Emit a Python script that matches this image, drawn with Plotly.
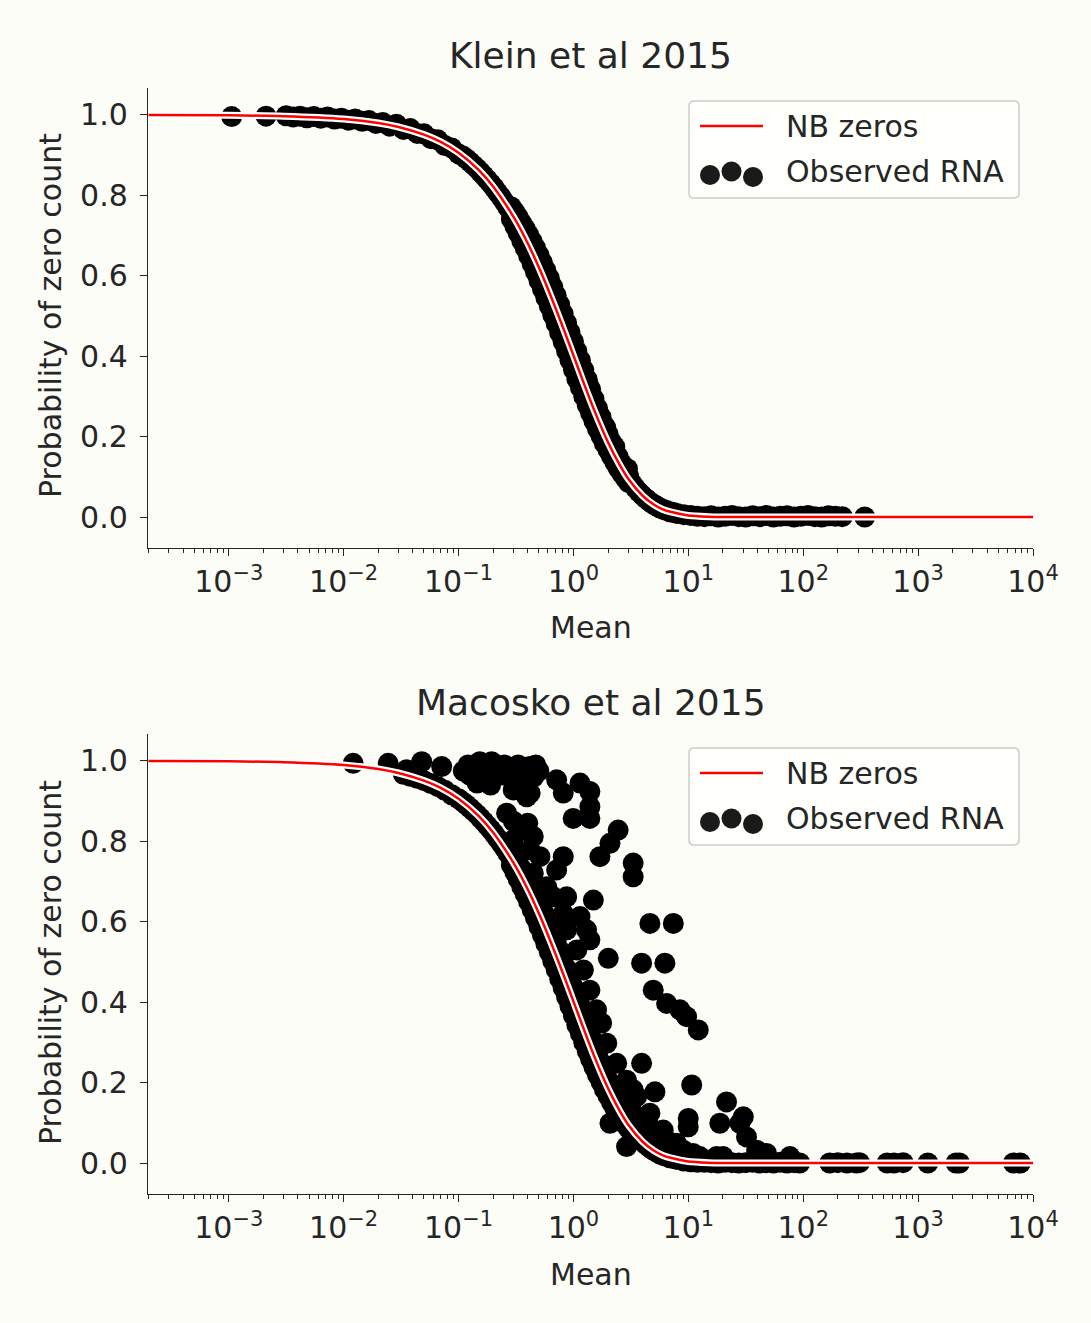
import plotly.graph_objects as go

# ---------------- data ----------------
# NB zeros model curve
nb_mean = [0.0002, 0.001, 0.003, 0.01, 0.02, 0.03, 0.05, 0.07, 0.1, 0.15, 0.2, 0.3, 0.4, 0.5,
           0.6, 0.7, 0.85, 1.0, 1.2, 1.5, 2.0, 2.5, 3.0, 4.0, 5.0, 6.0, 7.0, 10, 15, 20, 30,
           100, 1000, 10000]
nb_p0 = [1.0, 0.999, 0.997, 0.990, 0.980, 0.970, 0.951, 0.933, 0.906, 0.863, 0.822, 0.747, 0.681, 0.621,
         0.567, 0.519, 0.456, 0.402, 0.341, 0.269, 0.186, 0.132, 0.095, 0.053, 0.031, 0.019, 0.013,
         0.004, 0.001, 0.0003, 0.0001, 0.0, 0.0, 0.0]

# Klein et al 2015 observed points
klein_mean = [
    0.00106, 0.00211, 0.00316, 0.00363, 0.00417, 0.00479, 0.0055, 0.00631, 0.00724, 0.00832,
    0.00955, 0.011, 0.0126, 0.0145, 0.0166, 0.0191, 0.0219, 0.0251, 0.0288, 0.0331,
    0.038, 0.0437, 0.0501, 0.0575, 0.0661, 0.0759, 0.0871, 0.1,
    0.11, 0.117, 0.126, 0.135, 0.145, 0.155, 0.166, 0.178, 0.191, 0.204,
    0.219, 0.234, 0.251, 0.269, 0.288, 0.309, 0.331, 0.355, 0.38, 0.407,
    0.437, 0.468, 0.501, 0.537, 0.575, 0.617, 0.661, 0.708, 0.759, 0.813,
    0.871, 0.933, 1.0, 1.07, 1.15, 1.23, 1.32, 1.41, 1.51, 1.62,
    1.74, 1.86, 2.0, 2.14, 2.29, 2.45, 2.63, 2.82, 3.02, 3.24,
    3.47, 3.72, 3.98, 4.27, 4.57, 4.9, 5.25, 5.62, 6.03, 6.46,
    6.92, 7.41, 7.94,
    9.12, 10.5, 12.0, 13.8, 15.8, 18.2, 20.9, 24.0, 27.5, 31.6, 36.3, 41.7,
    47.9, 55.0, 63.1, 72.4, 83.2, 95.5, 110, 126, 145, 166, 191, 219, 343,
    0.646, 0.813, 1.35, 1.91, 2.29, 2.95]
klein_p0 = [
    0.996, 0.997, 0.998, 0.995, 0.997, 0.993, 0.996, 0.992, 0.995, 0.990,
    0.992, 0.987, 0.990, 0.984, 0.986, 0.979, 0.981, 0.972, 0.977, 0.964,
    0.966, 0.954, 0.953, 0.941, 0.938, 0.924, 0.918, 0.903,
    0.897, 0.891, 0.883, 0.875, 0.867, 0.858, 0.849, 0.839, 0.829, 0.819,
    0.807, 0.796, 0.783, 0.770, 0.756, 0.741, 0.726, 0.709, 0.693, 0.676,
    0.658, 0.639, 0.620, 0.600, 0.580, 0.559, 0.537, 0.516, 0.493, 0.471,
    0.448, 0.425, 0.402, 0.378, 0.356, 0.333, 0.310, 0.288, 0.266, 0.245,
    0.225, 0.205, 0.187, 0.169, 0.152, 0.136, 0.121, 0.107, 0.094, 0.083,
    0.072, 0.062, 0.054, 0.046, 0.039, 0.033, 0.028, 0.023, 0.019, 0.016,
    0.013, 0.011, 0.009,
    0.006, 0.004, 0.002, 0.001, 0.003, 0.0, 0.002, 0.004, 0.001, 0.0, 0.003, 0.001,
    0.004, 0.0, 0.002, 0.003, 0.0, 0.002, 0.004, 0.001, 0.0, 0.003, 0.002, 0.001, 0.0,
    0.568, 0.495, 0.328, 0.222, 0.175, 0.120]

# points spread above / below the curve in its steep part (both datasets)
steep_spread_mean = [0.288, 0.309, 0.331, 0.355, 0.38, 0.407, 0.437, 0.468, 0.501, 0.537,
                     0.575, 0.617, 0.661, 0.708, 0.759, 0.813, 0.871, 0.933, 1.0, 1.07,
                     1.15, 1.23, 1.32, 1.41, 1.51, 1.62, 1.74, 1.86, 2.0, 2.14,
                     2.29, 2.45, 2.63, 2.82, 3.02]
steep_upper_p0 = [0.771, 0.759, 0.746, 0.731, 0.717, 0.702, 0.686, 0.669, 0.652, 0.633,
                  0.614, 0.594, 0.572, 0.551, 0.528, 0.506, 0.483, 0.460, 0.437, 0.413,
                  0.390, 0.366, 0.342, 0.318, 0.294, 0.271, 0.249, 0.227, 0.207, 0.187,
                  0.168, 0.150, 0.133, 0.117, 0.102]
steep_lower_p0 = [0.741, 0.723, 0.706, 0.687, 0.669, 0.650, 0.630, 0.609, 0.588, 0.567,
                  0.546, 0.524, 0.502, 0.481, 0.458, 0.436, 0.413, 0.390, 0.367, 0.343,
                  0.322, 0.300, 0.278, 0.258, 0.238, 0.219, 0.201, 0.183, 0.167, 0.151,
                  0.136, 0.122, 0.109, 0.097, 0.086]

# Macosko et al 2015 observed points: points lying along the NB curve
macosko_band_mean = [
    0.0121, 0.0244,
    0.0331, 0.038, 0.0437, 0.0501, 0.0575, 0.0661, 0.0759, 0.0871, 0.1,
    0.11, 0.117, 0.126, 0.135, 0.145, 0.155, 0.166, 0.178, 0.191, 0.204,
    0.219, 0.234, 0.251, 0.269, 0.288, 0.309, 0.331, 0.355, 0.38, 0.407,
    0.437, 0.468, 0.501, 0.537, 0.575, 0.617, 0.661, 0.708, 0.759, 0.813,
    0.871, 0.933, 1.0, 1.07, 1.15, 1.23, 1.32, 1.41, 1.51, 1.62,
    1.74, 1.86, 2.0, 2.14, 2.29, 2.45, 2.63, 2.82, 3.02, 3.24,
    3.47, 3.72, 3.98, 4.27, 4.57, 4.9, 5.25, 5.62, 6.03, 6.46,
    6.92, 7.41, 7.94,
    9.12, 10.5, 12.0, 13.8, 15.8, 18.2, 20.9, 24.0, 27.5, 31.6,
    36.3, 41.7, 47.9, 55.0, 63.1, 72.4, 83.2, 93.3, 170, 200,
    240, 290, 309, 537, 617, 741, 1216, 2138, 2291, 6761, 7762]
macosko_band_p0 = [
    0.994, 0.994,
    0.967, 0.962, 0.957, 0.951, 0.944, 0.936, 0.927, 0.916, 0.906,
    0.897, 0.891, 0.883, 0.875, 0.867, 0.858, 0.849, 0.839, 0.829, 0.819,
    0.807, 0.796, 0.783, 0.770, 0.756, 0.741, 0.726, 0.709, 0.693, 0.676,
    0.658, 0.639, 0.620, 0.600, 0.580, 0.559, 0.537, 0.516, 0.493, 0.471,
    0.448, 0.425, 0.402, 0.378, 0.356, 0.333, 0.310, 0.288, 0.266, 0.245,
    0.225, 0.205, 0.187, 0.169, 0.152, 0.136, 0.121, 0.107, 0.094, 0.083,
    0.072, 0.062, 0.054, 0.046, 0.039, 0.033, 0.028, 0.023, 0.019, 0.016,
    0.013, 0.011, 0.009,
    0.005, 0.003, 0.002, 0.002, 0.001, 0.0, 0.002, 0.001, 0.0, 0.001,
    0.002, 0.0, 0.001, 0.0, 0.002, 0.0, 0.001, 0.0, 0.0, 0.001,
    0.0, 0.0, 0.001, 0.0, 0.0, 0.001, 0.0, 0.0, 0.0, 0.0, 0.0]
# Macosko points scattered above the NB curve
macosko_extra_mean = [
    0.0353, 0.0478, 0.0713,
    0.121, 0.153, 0.194, 0.229, 0.134, 0.176,
    0.418, 0.392, 0.262, 0.342, 0.447, 0.418,
    0.714, 0.815, 1.14, 1.39, 1.39, 0.995, 1.39,
    2.45, 2.08, 1.70, 3.31, 3.31,
    0.815, 0.714, 0.667, 0.873, 1.49,
    0.815, 1.14, 1.30, 1.39, 2.01,
    4.63, 7.40, 3.92, 6.25,
    4.95, 6.47, 8.45, 9.66, 12.2,
    3.92, 5.12, 10.7, 9.98, 9.98,
    21.5, 30.1,
    18.8, 28.1, 32.1, 39.3, 48.0,
    2.54, 3.31, 4.63, 6.47, 2.08, 2.90, 3.31, 4.95, 9.04, 12.6, 20.1, 76.6,
    0.585, 0.873, 1.07, 1.22, 1.39, 1.59, 1.76, 1.95, 2.38, 2.90, 3.55, 4.63,
    6.05, 7.91, 11.0, 17.6,
    0.299, 0.321, 0.447, 0.511, 0.392, 0.299,
    0.11, 0.14, 0.165, 0.21, 0.25, 0.28, 0.33, 0.37, 0.45, 0.5, 0.145, 0.19, 0.35, 0.42,
    0.30, 0.40,
    3.0, 3.6, 4.2, 5.0, 5.8, 7.0, 8.5, 4.0, 5.5, 6.8,
    0.47, 0.125, 0.16, 0.24]
macosko_extra_p0 = [
    0.978, 0.998, 0.986,
    0.990, 0.998, 0.998, 0.982, 0.961, 0.961,
    0.986, 0.945, 0.870, 0.828, 0.812, 0.779,
    0.953, 0.920, 0.945, 0.924, 0.886, 0.857, 0.857,
    0.828, 0.795, 0.762, 0.746, 0.712,
    0.762, 0.729, 0.662, 0.662, 0.654,
    0.621, 0.613, 0.580, 0.555, 0.509,
    0.596, 0.596, 0.497, 0.497,
    0.430, 0.397, 0.381, 0.364, 0.331,
    0.248, 0.177, 0.194, 0.111, 0.090,
    0.152, 0.115,
    0.099, 0.099, 0.065, 0.032, 0.024,
    0.190, 0.182, 0.090, 0.057, 0.099, 0.041, 0.124, 0.074, 0.032, 0.016, 0.016, 0.016,
    0.687, 0.580, 0.530, 0.480, 0.430, 0.381, 0.348, 0.298, 0.248, 0.206, 0.165, 0.124,
    0.082, 0.049, 0.024, 0.016,
    0.803, 0.746, 0.721, 0.762, 0.911, 0.928,
    0.975, 0.985, 0.975, 0.975, 0.990, 0.975, 0.990, 0.975, 0.960, 0.975, 0.945, 0.940, 0.940, 0.920,
    0.850, 0.845,
    0.130, 0.100, 0.070, 0.050, 0.035, 0.020, 0.012, 0.110, 0.075, 0.045,
    0.990, 0.965, 0.950, 0.965]

titles = ["Klein et al 2015", "Macosko et al 2015"]
x_label = "Mean"
y_label = "Probability of zero count"
legend_labels = ["NB zeros", "Observed RNA"]
x_tick_vals = [1e-3, 1e-2, 1e-1, 1e0, 1e1, 1e2, 1e3, 1e4]
x_tick_text = ["10<sup>\u22123</sup>", "10<sup>\u22122</sup>", "10<sup>\u22121</sup>", "10<sup>0</sup>",
               "10<sup>1</sup>", "10<sup>2</sup>", "10<sup>3</sup>", "10<sup>4</sup>"]
y_tick_vals = [0.0, 0.2, 0.4, 0.6, 0.8, 1.0]
y_tick_text = ["0.0", "0.2", "0.4", "0.6", "0.8", "1.0"]

for a, b in [(klein_mean, klein_p0), (macosko_band_mean, macosko_band_p0),
             (macosko_extra_mean, macosko_extra_p0), (nb_mean, nb_p0),
             (steep_spread_mean, steep_upper_p0), (steep_spread_mean, steep_lower_p0)]:
    assert len(a) == len(b), (len(a), len(b))

# ---------------- layout helpers ----------------
W, H = 1091, 1323
L, R, T, B = 148, 1033, 88, 1194
BG = "#fdfdf8"
INK = "#262626"
FONT = "DejaVu Sans"
TICK_SIZE = 30
TITLE_SIZE = 36
PANEL_SHIFT = 647
MARKER = 21


def pxx(x):
    return (x - L) / (R - L)


def pxy(y):
    return (B - y) / (B - T)


fig = go.Figure()

klein_all_x = klein_mean + steep_spread_mean + steep_spread_mean
klein_all_y = klein_p0 + steep_upper_p0 + steep_lower_p0
mac_all_x = macosko_band_mean + steep_spread_mean + steep_spread_mean + macosko_extra_mean
mac_all_y = macosko_band_p0 + steep_upper_p0 + steep_lower_p0 + macosko_extra_p0

panels = [("x", "y", klein_all_x, klein_all_y), ("x2", "y2", mac_all_x, mac_all_y)]
for xa, ya, mx, my in panels:
    fig.add_trace(go.Scatter(x=mx, y=my, mode="markers", xaxis=xa, yaxis=ya,
                             marker=dict(color="#000000", size=MARKER, line=dict(width=0)),
                             showlegend=False, hoverinfo="skip"))
    fig.add_trace(go.Scatter(x=nb_mean, y=nb_p0, mode="lines", xaxis=xa, yaxis=ya,
                             line=dict(color="#ffffff", width=7, shape="spline", smoothing=0.6),
                             showlegend=False, hoverinfo="skip"))
    fig.add_trace(go.Scatter(x=nb_mean, y=nb_p0, mode="lines", xaxis=xa, yaxis=ya,
                             line=dict(color="#ff0000", width=2.5, shape="spline", smoothing=0.6),
                             showlegend=False, hoverinfo="skip"))

minor_vals = [m * 10.0 ** e for e in range(-4, 4) for m in range(2, 10)]

xaxis_style = dict(
    type="log", range=[-3.703, 4.0], showgrid=False, zeroline=False,
    showline=True, linecolor=INK, linewidth=1.4,
    ticks="outside", ticklen=7, tickwidth=1.4, tickcolor=INK,
    tickmode="array", tickvals=x_tick_vals, ticktext=x_tick_text,
    tickfont=dict(family=FONT, size=TICK_SIZE, color=INK),
    minor=dict(ticks="outside", ticklen=4, tickwidth=1.0, tickcolor=INK,
               tickmode="array", tickvals=minor_vals, showgrid=False),
)
yaxis_style = dict(
    range=[-0.077, 1.067], showgrid=False, zeroline=False,
    showline=True, linecolor=INK, linewidth=1.4,
    ticks="outside", ticklen=7, tickwidth=1.4, tickcolor=INK,
    tickmode="array", tickvals=y_tick_vals, ticktext=y_tick_text,
    tickfont=dict(family=FONT, size=TICK_SIZE, color=INK),
    ticklabelstandoff=6,
)

top_dom = [(B - 548) / (B - T), 1.0]
bot_dom = [0.0, (B - 734) / (B - T)]

fig.update_layout(
    width=W, height=H,
    margin=dict(l=L, r=W - R, t=T, b=H - B),
    paper_bgcolor=BG, plot_bgcolor=BG,
    font=dict(family=FONT, color=INK),
    showlegend=False,
    xaxis=dict(**xaxis_style, anchor="y", domain=[0, 1]),
    yaxis=dict(**yaxis_style, anchor="x", domain=top_dom),
    xaxis2=dict(**xaxis_style, anchor="y2", domain=[0, 1]),
    yaxis2=dict(**yaxis_style, anchor="x2", domain=bot_dom),
)

annotations = []
shapes = []
for i, title in enumerate(titles):
    off = i * PANEL_SHIFT
    annotations.append(dict(text=title, xref="paper", yref="paper", x=pxx(590.5), y=pxy(55 + off),
                            xanchor="center", yanchor="middle", showarrow=False,
                            font=dict(family=FONT, size=TITLE_SIZE, color=INK)))
    annotations.append(dict(text=x_label, xref="paper", yref="paper", x=pxx(591), y=pxy(627 + off),
                            xanchor="center", yanchor="middle", showarrow=False,
                            font=dict(family=FONT, size=TICK_SIZE, color=INK)))
    annotations.append(dict(text=y_label, xref="paper", yref="paper", x=pxx(50), y=pxy(316 + off),
                            xanchor="center", yanchor="middle", showarrow=False, textangle=-90,
                            font=dict(family=FONT, size=TICK_SIZE, color=INK)))
    # legend box (rounded)
    x0, x1, y0, y1, r = 689, 1019, 101 + off, 198 + off, 5
    pts = [(x0 + r, y0), (x1 - r, y0), (x1, y0, x1, y0 + r), (x1, y1 - r), (x1, y1, x1 - r, y1),
           (x0 + r, y1), (x0, y1, x0, y1 - r), (x0, y0 + r), (x0, y0, x0 + r, y0)]
    path = "M %.5f,%.5f" % (pxx(pts[0][0]), pxy(pts[0][1]))
    for p in pts[1:]:
        if len(p) == 2:
            path += " L %.5f,%.5f" % (pxx(p[0]), pxy(p[1]))
        else:
            path += " Q %.5f,%.5f %.5f,%.5f" % (pxx(p[0]), pxy(p[1]), pxx(p[2]), pxy(p[3]))
    path += " Z"
    shapes.append(dict(type="path", path=path, xref="paper", yref="paper", layer="above",
                       fillcolor="rgba(255,255,253,0.85)", line=dict(color="#cccccc", width=1.5)))
    shapes.append(dict(type="line", xref="paper", yref="paper", layer="above",
                       x0=pxx(700), x1=pxx(763), y0=pxy(126 + off), y1=pxy(126 + off),
                       line=dict(color="#ff0000", width=2.5)))
    for cx, cy in [(710, 175), (731.5, 171.5), (753, 177)]:
        shapes.append(dict(type="circle", xref="paper", yref="paper", layer="above",
                           xsizemode="pixel", ysizemode="pixel",
                           xanchor=pxx(cx), yanchor=pxy(cy + off), x0=-10, x1=10, y0=-10, y1=10,
                           fillcolor="#1a1a1a", line=dict(width=0)))
    annotations.append(dict(text=legend_labels[0], xref="paper", yref="paper", x=pxx(784), y=pxy(126 + off),
                            xanchor="left", yanchor="middle", showarrow=False,
                            font=dict(family=FONT, size=TICK_SIZE, color=INK)))
    annotations.append(dict(text=legend_labels[1], xref="paper", yref="paper", x=pxx(784), y=pxy(171 + off),
                            xanchor="left", yanchor="middle", showarrow=False,
                            font=dict(family=FONT, size=TICK_SIZE, color=INK)))

fig.update_layout(annotations=annotations, shapes=shapes)
fig.write_html("out.html")
